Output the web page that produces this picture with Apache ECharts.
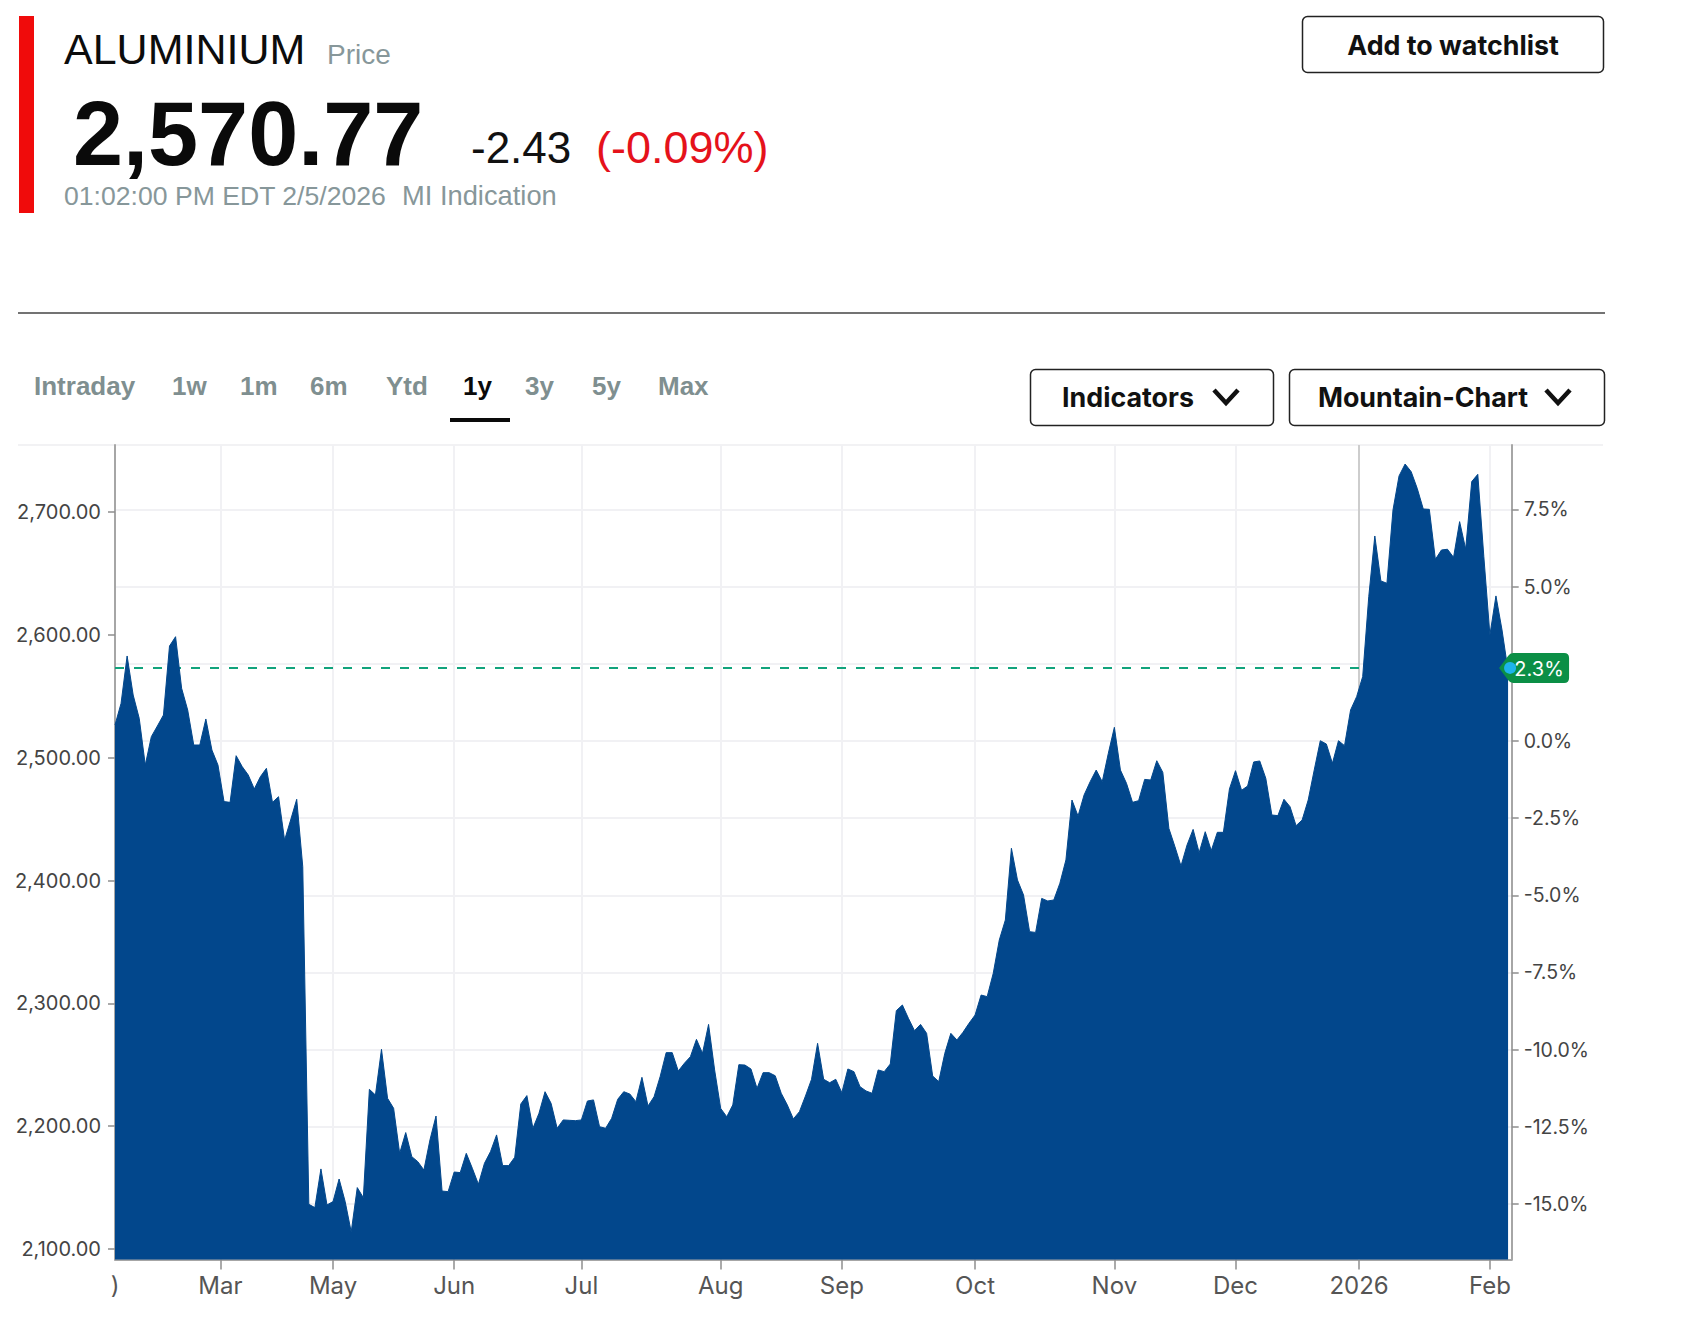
<!DOCTYPE html>
<html><head><meta charset="utf-8">
<style>html,body{margin:0;padding:0;background:#fff}#c{width:1693px;height:1328px}</style>
<script src="https://cdn.jsdelivr.net/npm/echarts@6/dist/echarts.min.js"></script>
</head><body><div id="c"></div>
<script>
const prices = [
2526.7,2544.3,2582.9,2551.1,2532.1,2494.1,2517.2,2525.9,2534.8,2591.0,2598.6,2556.6,2538.9,2510.4,2510.4,2531.6,2506.3,2494.1,2464.3,2463.7,
2501.7,2492.8,2486.0,2474.6,2484.6,2491.4,2463.7,2468.3,2433.0,2449.3,2466.2,2411.3,2136.4,2133.7,2165.2,2135.9,2138.6,2157.0,2138.6,2113.9,
2150.0,2141.8,2230.0,2225.4,2262.6,2222.7,2214.6,2177.9,2194.8,2175.2,2171.1,2164.3,2188.8,2208.3,2147.2,2146.7,2162.7,2162.2,2177.9,2165.7,
2152.7,2169.8,2179.3,2192.9,2167.9,2167.9,2174.7,2218.1,2224.9,2198.3,2210.5,2228.1,2218.6,2198.3,2205.1,2204.8,2204.5,2205.1,2220.5,2221.4,
2199.6,2198.3,2206.4,2221.9,2228.1,2226.2,2220.0,2239.8,2216.4,2224.0,2240.3,2259.9,2259.9,2244.9,2251.2,2256.6,2270.7,2259.3,2282.9,2245.8,
2214.5,2207.7,2217.3,2250.1,2249.8,2246.6,2230.8,2243.6,2243.6,2241.1,2226.8,2217.3,2205.9,2211.8,2224.6,2238.2,2267.5,2238.2,2235.4,2238.2,
2227.3,2246.6,2244.4,2232.2,2228.7,2226.8,2245.8,2244.4,2250.6,2294.1,2298.7,2287.8,2277.8,2282.9,2275.6,2240.9,2236.3,2259.3,2275.6,2270.2,
2276.4,2283.8,2290.5,2306.8,2305.5,2324.5,2351.6,2367.9,2426.3,2400.5,2388.3,2358.4,2357.8,2385.5,2383.4,2384.2,2397.8,2416.8,2465.6,2452.6,
2469.7,2480.5,2490.0,2480.5,2503.6,2524.8,2490.0,2479.2,2463.7,2465.1,2482.4,2481.9,2497.6,2488.1,2442.5,2427.6,2411.9,2429.0,2441.7,2422.7,
2439.8,2424.4,2439.3,2439.3,2474.6,2489.5,2473.5,2477.0,2496.6,2497.4,2483.3,2453.4,2452.9,2466.2,2460.2,2444.7,2449.3,2465.6,2490.1,2513.9,
2511.2,2495.5,2513.9,2509.9,2538.9,2549.8,2566.1,2631.2,2680.6,2644.0,2642.1,2701.8,2729.5,2739.2,2733.0,2719.4,2702.6,2702.3,2661.6,2669.2,
2669.8,2663.2,2692.3,2670.0,2724.9,2730.8,2663.8,2600.0,2631.8,2604.1,2570.77];
const monthTicks  = [17.4,36,56,77,100,120,142,165,185,205.4,227];
const monthLabels = ['Mar','May','Jun','Jul','Aug','Sep','Oct','Nov','Dec','2026','Feb'];
const clippedLabel = ')';
const priceTicks = [2100,2200,2300,2400,2500,2600,2700];
const pctTicks = [-15,-12.5,-10,-7.5,-5,-2.5,0,2.5,5,7.5];
const pctLabels = [-15,-12.5,-10,-7.5,-5,-2.5,0,5,7.5];
const basePrice = 2513.7;
const previousClose = 2573.2;
const changeLabel = '2.3%';
const tabs = ['Intraday','1w','1m','6m','Ytd','1y','3y','5y','Max'];
const tabX = [34,172,240,310,386,463,525,592,658];

const yMin = 2091.45, yMax = 2754.7, xMax = 230.6;
const axisFont = 'Inter, sans-serif', head = '"Liberation Sans", Arial, sans-serif', btn = 'Inter, sans-serif';
const gray = '#87979a';
const R = (x,y,w,h,r,fill,stroke,lw) => ({type:'rect',silent:true,shape:{x,y,width:w,height:h,r:r||0},style:{fill:fill||'none',stroke:stroke||'none',lineWidth:lw||0}});
const L = (pts,stroke,lw) => ({type:'polyline',silent:true,shape:{points:pts},style:{fill:'none',stroke,lineWidth:lw}});
const base = (x,y,text,size,fill,weight,align,family) => ({type:'text',x,y:y-0.35*size,silent:true,
  style:{text,fill,font:(weight||'normal')+' '+size+'px '+(family||head),textAlign:align||'left',textVerticalAlign:'middle',verticalAlign:'middle'}});

const graphics = [
  R(19,16,15,197,0,'#f00b0b'),
  base(64,64,'ALUMINIUM',43,'#0c0c0c'),
  base(327,64,'Price',28,gray),
  base(73,165,'2,570.77',90,'#0a0a0a','bold'),
  base(471,163,'-2.43',44,'#111'),
  base(596,163,'(-0.09%)',45,'#e5121b'),
  base(64,205,'01:02:00 PM EDT 2/5/2026',26.6,gray),
  base(402,205,'MI Indication',27.3,gray),
  R(1302.5,16.5,301,56,5,'#fff','#222',1.5),
  base(1453,54,'Add to watchlist',26.8,'#111','bold','center',btn),
  L([[18,313],[1605,313]],'#444',1.5),
  R(450,418,60,4,0,'#0a0a0a'),
  R(1030.5,369.5,243,56,5,'#fff','#222',1.5),
  base(1128,406,'Indicators',26.8,'#111','bold','center',btn),
  L([[1214,390],[1226,403],[1238,390]],'#111',4.5),
  R(1289.5,369.5,315,56,5,'#fff','#222',1.5),
  base(1423,406,'Mountain-Chart',26.8,'#111','bold','center',btn),
  L([[1546,390],[1558,403],[1570,390]],'#111',4.5),
  L([[18,445],[1603,445]],'#eeeef0',1.5),
];
tabs.forEach((t,i)=>graphics.push(base(tabX[i],395,t,26,t==='1y'?'#0a0a0a':'#7f8f90','bold')));

const pct = p => (p/basePrice-1)*100;
const axisLine = {show:true,onZero:false,lineStyle:{color:'#a6a6a6',width:2}};
const tick = len => ({show:true,length:len,lineStyle:{color:'#8e8e8e',width:1.5}});
const split = {show:true,lineStyle:{color:'#f1f1f4',width:2}};

const option = {
  animation:false,
  backgroundColor:'#fff',
  graphic:{elements:graphics},
  grid:{left:115,right:181.3,top:445,bottom:68.5,containLabel:false},
  xAxis:{type:'value',min:0,max:xMax,
    axisLine:axisLine,
    axisTick:Object.assign(tick(10),{customValues:monthTicks}),
    splitLine:split,
    axisLabel:{customValues:[0].concat(monthTicks),margin:14,fontFamily:axisFont,fontSize:24,color:'#555',hideOverlap:false,showMinLabel:true,showMaxLabel:true,
      formatter:v=> v===0?clippedLabel:monthLabels[monthTicks.indexOf(v)]}},
  yAxis:[
    {type:'value',position:'left',min:yMin,max:yMax,
      axisLine:axisLine,axisTick:Object.assign(tick(7),{customValues:priceTicks}),splitLine:{show:false},
      axisLabel:{customValues:priceTicks,margin:14,fontFamily:axisFont,fontSize:20,color:'#444',showMinLabel:true,showMaxLabel:true,
        formatter:v=>v.toLocaleString('en-US',{minimumFractionDigits:2,maximumFractionDigits:2})}},
    {type:'value',position:'right',min:pct(yMin),max:pct(yMax),
      axisLine:axisLine,axisTick:Object.assign(tick(7),{customValues:pctTicks}),splitLine:split,
      axisLabel:{customValues:pctLabels,margin:12,fontFamily:axisFont,fontSize:19.5,color:'#444',showMinLabel:true,showMaxLabel:true,
        formatter:v=>v.toFixed(1)+'%'}}
  ],
  series:[
    {type:'line',name:'guides',z:1,data:[],symbol:'none',silent:true,
      markLine:{z:1,silent:true,symbol:'none',label:{show:false},animation:false,data:[
        {xAxis:monthTicks[9],lineStyle:{color:'#cdcdcd',width:2,type:'solid'}},
        {yAxis:previousClose,lineStyle:{color:'#11a37c',width:2,type:[9,10]}}
      ]}},
    {type:'line',name:'ALUMINIUM',z:3,symbol:'none',showSymbol:false,silent:true,
      data:prices.map((p,i)=>[i,p]),
      lineStyle:{color:'#02478c',width:1},
      itemStyle:{color:'#02478c'},
      areaStyle:{color:'#02478c',opacity:1,origin:'start'},
      markPoint:{silent:true,animation:false,data:[
        {coord:[prices.length-1,previousClose],
         symbol:'path://M0 15 L9 3 Q11 0 14 0 L65 0 Q70 0 70 5 L70 25 Q70 30 65 30 L14 30 Q11 30 9 27 Z',
         symbolKeepAspect:false,symbolSize:[70,30],symbolOffset:[26,0],itemStyle:{color:'#0b8f46'},
         label:{show:true,formatter:changeLabel,color:'#fff',fontFamily:axisFont,fontSize:20,offset:[5,1]}},
        {coord:[prices.length-1,previousClose],symbol:'circle',symbolSize:12,symbolOffset:[2,0],itemStyle:{color:'#1db4ec'},label:{show:false}}
      ]}}
  ]
};
const chart = echarts.init(document.getElementById('c'),null,{renderer:'svg',width:1693,height:1328});
chart.setOption(option);
</script></body></html>
